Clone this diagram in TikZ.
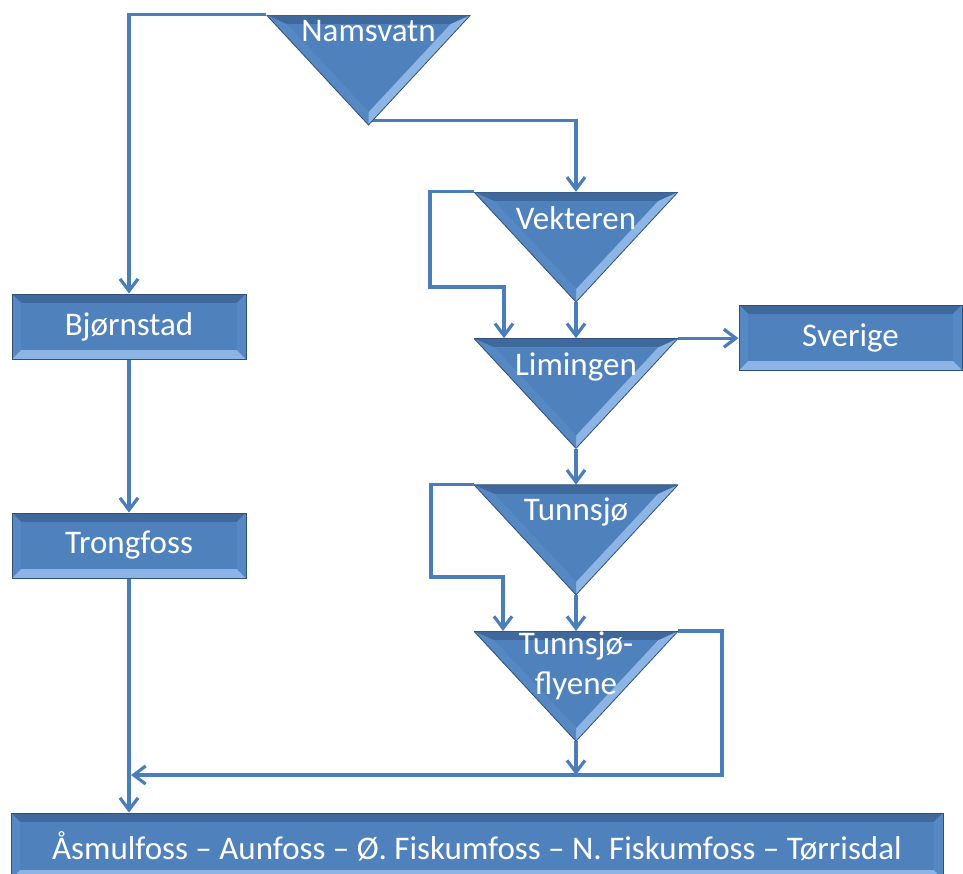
\documentclass[tikz,border=0pt]{standalone}
\usepackage{fontspec}
\setmainfont{Carlito}
\usetikzlibrary{positioning,arrows.meta,backgrounds}

\definecolor{flowblue}{RGB}{74,126,187}
\definecolor{facefill}{RGB}{79,129,189}
\definecolor{bevdark}{RGB}{63,104,156}
\definecolor{bevmid}{RGB}{86,136,196}
\definecolor{bevlight}{RGB}{140,180,228}
\definecolor{edgedark}{RGB}{47,80,120}

\tikzset{
  flow/.style={draw=flowblue, line width=3.2pt,
    -{Straight Barb[length=12pt,width=18pt]}},
  txt/.style={text=white, font=\fontsize{33}{40}\selectfont, inner sep=0pt, align=center},
  % power plants: bevelled boxes
  plant/.style={rectangle, txt, minimum height=65pt, draw=edgedark, line width=1pt,
    path picture={
      \coordinate (pa) at (path picture bounding box.north west);
      \coordinate (pc) at (path picture bounding box.south east);
      \coordinate (pb) at (pa -| pc);
      \coordinate (pd) at (pa |- pc);
      \coordinate (qa) at ([shift={(9pt,-9pt)}]pa);
      \coordinate (qb) at ([shift={(-9pt,-9pt)}]pb);
      \coordinate (qc) at ([shift={(-9pt,9pt)}]pc);
      \coordinate (qd) at ([shift={(9pt,9pt)}]pd);
      \fill[bevlight] (pa) rectangle (pc);
      \fill[bevdark] (pa) -- (pb) -- (qb) -- (qa) -- cycle;
      \fill[bevmid] (pa) -- (qa) -- (qd) -- (pd) -- cycle;
      \fill[bevmid] (pb) -- (qb) -- (qc) -- (pc) -- cycle;
      \fill[facefill] (qa) rectangle (qc);
    }},
  % reservoirs: bevelled triangles, name near the top
  res/.style 2 args={rectangle, inner sep=0pt, minimum width=204pt, minimum height=110pt,
    label={[txt, anchor=base, yshift=-#2]north:#1},
    path picture={
      \coordinate (ta) at (path picture bounding box.north west);
      \coordinate (tb) at (path picture bounding box.north east);
      \coordinate (tc) at (path picture bounding box.south);
      \coordinate (ia) at ([shift={(20pt,-9pt)}]ta);
      \coordinate (ib) at ([shift={(-20pt,-9pt)}]tb);
      \coordinate (ic) at ([shift={(0pt,13pt)}]tc);
      \fill[bevlight] (ta) -- (tb) -- (tc) -- cycle;
      \fill[bevmid] (ta) -- (ia) -- (ic) -- (tc) -- cycle;
      \fill[bevdark] (ta) -- (tb) -- (ib) -- (ia) -- cycle;
      \fill[facefill] (ia) -- (ib) -- (ic) -- cycle;
      \draw[edgedark, line width=0.8pt] (ta) -- (tb) -- (tc) -- cycle;
    }},
}

\begin{document}
\begin{tikzpicture}[x=1pt, y=-1pt]
  \useasboundingbox (0,0) rectangle (963,873);

  % reservoirs
  \node[res={Namsvatn}{27pt}] (nam) at (368.5,70) {};
  \node[res={Vekteren}{38pt}] (vek) at (576,247) {};
  \node[res={Limingen}{37pt}, below=36pt of vek] (lim) {};
  \node[res={Tunnsjø}{36pt}, below=36pt of lim] (tun) {};
  \node[res={Tunnsjø-\\flyene}{63pt}, below=36pt of tun] (fly) {};

  % plants
  \node[plant, minimum width=223pt] (sve) at (850.5,337.5) {Sverige};
  \node[plant, minimum width=234pt] (bjo) at (129,326.5) {Bjørnstad};
  \node[plant, minimum width=234pt, below=153pt of bjo] (tro) {Trongfoss};
  \node[plant, minimum width=932pt, minimum height=66pt] (bot) at (477,846)
    {Åsmulfoss – Aunfoss – Ø. Fiskumfoss – N. Fiskumfoss – Tørrisdal};

  \coordinate (vbend) at (430,287);
  \coordinate (tbend) at (431,577);
  \coordinate (ret) at (722,775);

  \begin{scope}[on background layer]
    \draw[flow] (nam.north west) -| (bjo.north);
    \draw[flow] ([yshift=5pt]nam.south) -| (vek.north);
    \draw[flow] (vek.north west) -| (vbend) -| ([xshift=-72pt]lim.north);
    \draw[flow] (vek.south) -- (lim.north);
    \draw[flow] (lim.north east) -- (lim.north east -| sve.west);
    \draw[flow] (lim.south) -- (tun.north);
    \draw[flow] (tun.north west) -| (tbend) -| ([xshift=-73pt]fly.north);
    \draw[flow] (tun.south) -- (fly.north);
    \draw[flow] (fly.north east) -| (ret) -- ([xshift=2pt]ret -| tro.south);
    \draw[flow] (fly.south) -- (fly.south |- ret);
    \draw[flow] (bjo) -- (tro);
    \draw[flow] (tro.south) -- (tro.south |- bot.north);
  \end{scope}
\end{tikzpicture}
\end{document}
